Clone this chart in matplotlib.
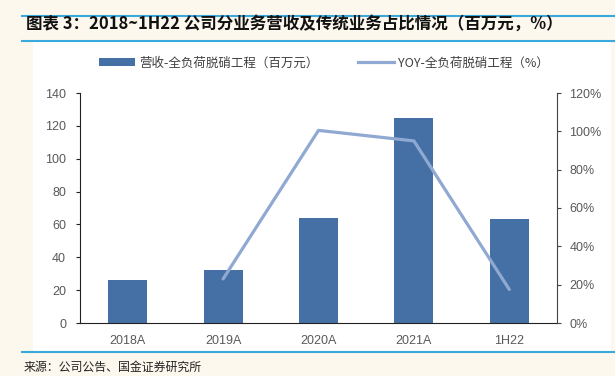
import matplotlib
matplotlib.use("Agg")
import matplotlib.pyplot as plt
from matplotlib.patches import Rectangle
from matplotlib.lines import Line2D
from matplotlib.ticker import FuncFormatter

plt.rcParams['font.family'] = ['Noto Sans CJK SC', 'DejaVu Sans']

categories = ["2018A", "2019A", "2020A", "2021A", "1H22"]
revenue = [26, 32, 64, 125, 63.5]
yoy = [None, 23, 100.5, 95, 17.5]
left_ticks = [0, 20, 40, 60, 80, 100, 120, 140]
right_ticks = [0, 20, 40, 60, 80, 100, 120]

W, H = 615, 376
fig = plt.figure(figsize=(W / 100, H / 100), dpi=100)
fig.patch.set_facecolor("#FDF8EE")

# white panel
fig.add_artist(Rectangle((33 / W, 1 - 351 / H), (611 - 33) / W, (351 - 42) / H,
                         transform=fig.transFigure, facecolor="white", edgecolor="none", zorder=0))
# blue rules
for y in (16, 41, 352):
    fig.add_artist(Line2D([22 / W, 1], [1 - y / H, 1 - y / H], transform=fig.transFigure,
                          color="#3AA9DE", lw=1.5))

fig.text(26 / W, 1 - 24 / H, "图表 3：2018~1H22 公司分业务营收及传统业务占比情况（百万元，%）",
         fontsize=11.9, fontweight="bold", va="center", ha="left", color="#111111")
fig.text(24 / W, 1 - 367 / H, "来源：公司公告、国金证券研究所", fontsize=8.6,
         va="center", ha="left", color="#222222")

latin = ['Liberation Sans', 'DejaVu Sans']

ax = fig.add_axes([80 / W, 1 - 323 / H, (557 - 80) / W, (323 - 93) / H])
ax.set_facecolor("none")
x = list(range(len(categories)))
bar_color = "#4570A6"
line_color = "#8FA9D2"
ax.bar(x, revenue, width=0.41, color=bar_color, zorder=2)
ax.set_xlim(-0.5, len(categories) - 0.5)
ax.set_ylim(0, 140)
ax.set_yticks(left_ticks)
ax.set_xticks(x)
ax.set_xticklabels(categories)
ax.tick_params(axis="x", length=0, pad=9, labelsize=9, labelcolor="#595959")
ax.tick_params(axis="y", length=3, direction="out", pad=7, labelsize=9, labelcolor="#595959", color="#222222")
for lab in ax.get_xticklabels() + ax.get_yticklabels():
    lab.set_family(latin)
for s in ("top", "right"):
    ax.spines[s].set_visible(False)
ax.spines["left"].set_color("#222222")
ax.spines["bottom"].set_color("#222222")

ax2 = ax.twinx()
xs = [i for i, v in enumerate(yoy) if v is not None]
ys = [v for v in yoy if v is not None]
ax2.plot(xs, ys, color=line_color, lw=2.3, solid_capstyle="round", zorder=3)
ax2.set_ylim(0, 120)
ax2.set_yticks(right_ticks)
ax2.yaxis.set_major_formatter(FuncFormatter(lambda v, p: f"{int(v)}%"))
ax2.tick_params(axis="y", length=3, direction="out", pad=6, labelsize=9, labelcolor="#595959", color="#444444")
for lab in ax2.get_yticklabels():
    lab.set_family(latin)
for s in ("top", "left", "bottom"):
    ax2.spines[s].set_visible(False)
ax2.spines["right"].set_color("#444444")

handles = [Rectangle((0, 0), 1, 1, facecolor=bar_color),
           Line2D([0], [0], color=line_color, lw=2.3)]
labels = ["营收-全负荷脱硝工程（百万元）", "YOY-全负荷脱硝工程（%）"]
fig.legend(handles, labels, loc="center", bbox_to_anchor=(324 / W, 1 - 63 / H), ncol=2,
           frameon=False, fontsize=9, handlelength=2.9, handleheight=0.6,
           columnspacing=3.1, handletextpad=0.35, labelcolor="#404040")

fig.savefig("out.png", dpi=100, facecolor=fig.get_facecolor())
